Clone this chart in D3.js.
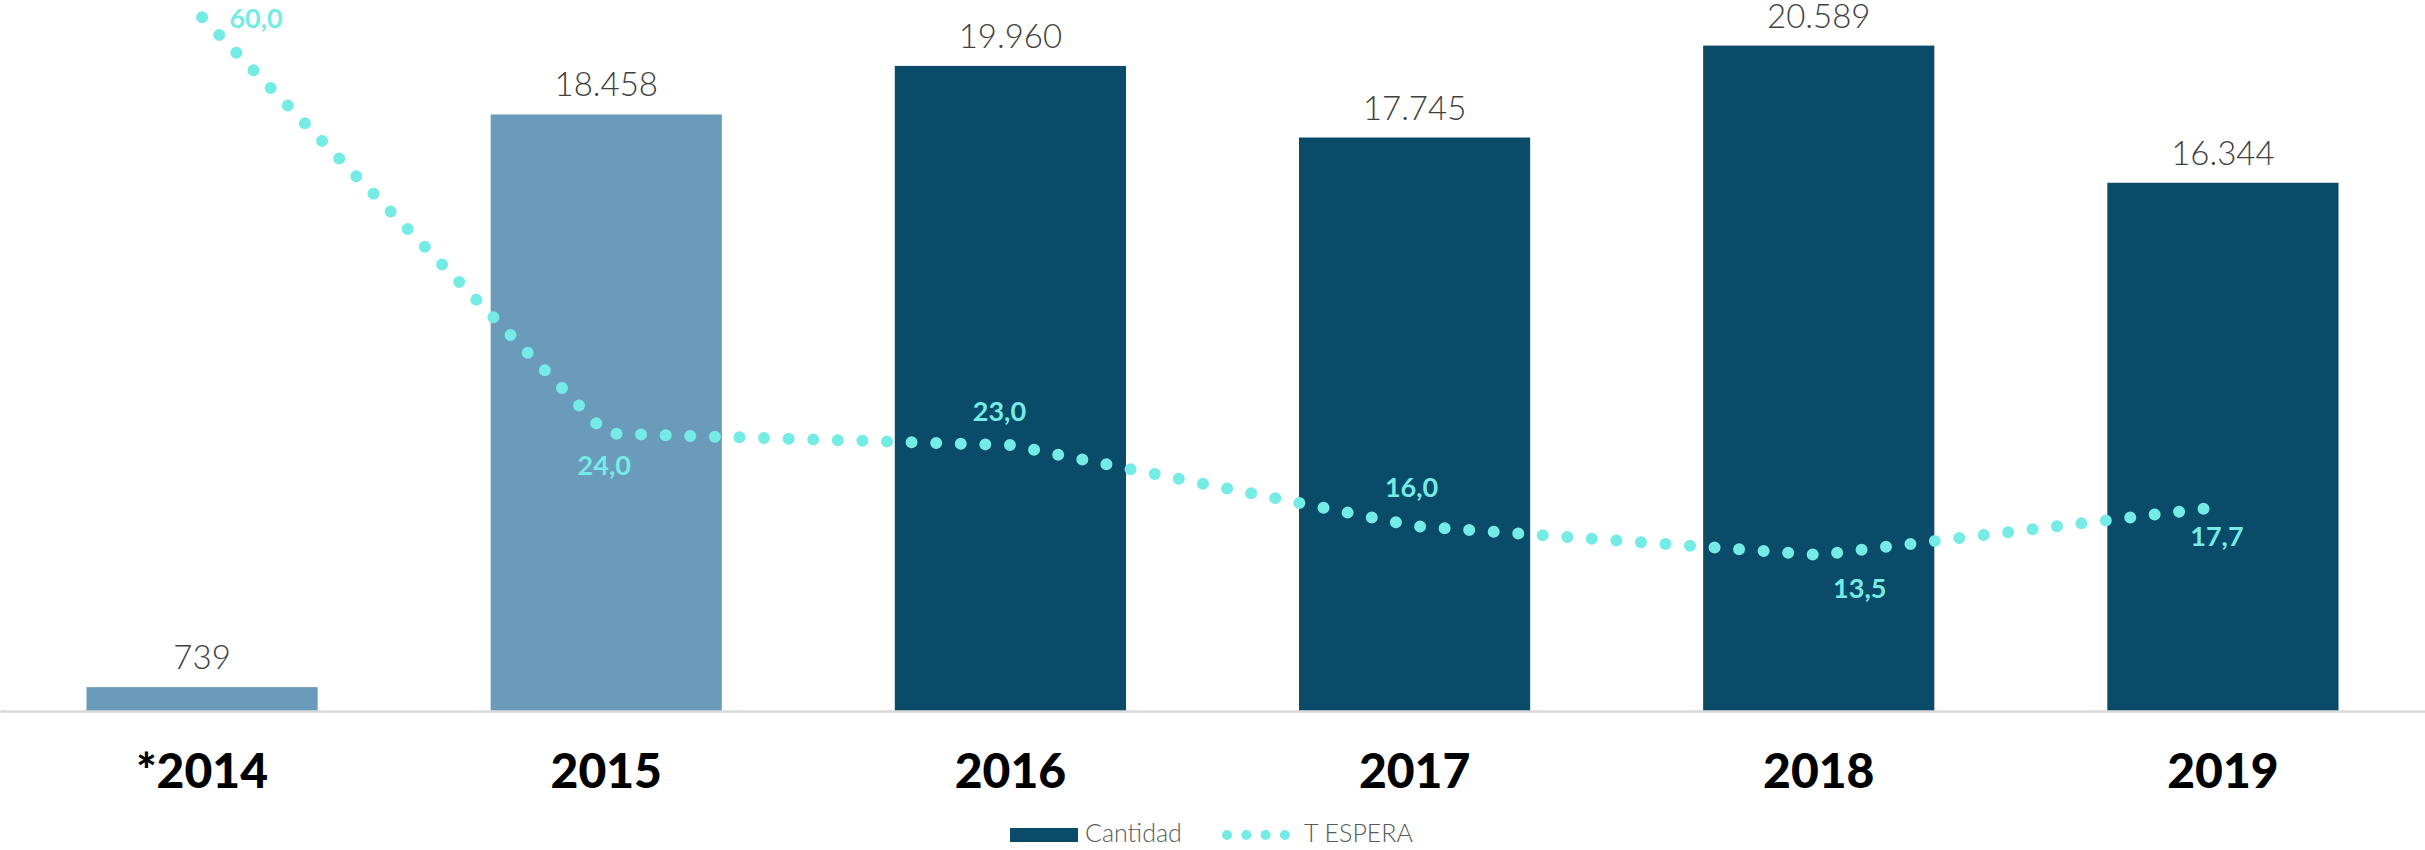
<!DOCTYPE html>
<html>
<head>
<meta charset="utf-8">
<script src="https://cdn.jsdelivr.net/npm/d3@7"></script>
<style>
  html, body { margin: 0; padding: 0; background: #ffffff; }
  svg { display: block; }
</style>
</head>
<body>
<svg id="chart" width="2425" height="850"></svg>
<script>
// ---- data ----
const categories = ["*2014", "2015", "2016", "2017", "2018", "2019"];
const cantidad = [739, 18458, 19960, 17745, 20589, 16344];
const cantidadLabels = ["739", "18.458", "19.960", "17.745", "20.589", "16.344"];
const tEspera = [60.0, 24.0, 23.0, 16.0, 13.5, 17.7];
const tEsperaLabels = ["60,0", "24,0", "23,0", "16,0", "13,5", "17,7"];
const seriesNames = ["Cantidad", "T ESPERA"];

// ---- styling / layout ----
const W = 2425, H = 850;
const baseY = 711;
const darkBlue = "#094b68";
const lightBlue = "#6b9bba";
const turq = "#75ebe5";
// label placement for the T ESPERA value labels (offset from the point)
const lineLabelPlacement = [
  { dx: 54, dy: 1 }, { dx: -2, dy: 32 }, { dx: -11, dy: -34 },
  { dx: -3, dy: -39 }, { dx: 41, dy: 33 }, { dx: -6, dy: 30 }
];

const svg = d3.select("#chart");

const x = d3.scaleBand()
  .domain(categories)
  .range([0, W])
  .paddingInner(0.428)
  .paddingOuter(0.214);

const y = d3.scaleLinear().domain([0, 22000]).range([baseY, 0]);
const y2 = d3.scaleLinear().domain([0, 61.5]).range([baseY, 0]);

// bars
svg.append("g").selectAll("rect")
  .data(categories)
  .join("rect")
  .attr("x", d => x(d))
  .attr("width", x.bandwidth())
  .attr("y", (d, i) => y(cantidad[i]))
  .attr("height", (d, i) => baseY - y(cantidad[i]))
  .attr("fill", (d, i) => i < 2 ? lightBlue : darkBlue);

// baseline axis
const xAxis = d3.axisBottom(x).tickSize(0).tickPadding(0);
const gx = svg.append("g").attr("transform", `translate(0,${baseY})`).call(xAxis);
gx.select(".domain").attr("stroke", "#d9d9d9").attr("stroke-width", 2.5);
gx.selectAll(".tick text")
  .attr("y", 77)
  .attr("dy", null)
  .attr("fill", "#000")
  .style("font-family", "Lato, 'Open Sans', sans-serif")
  .style("font-weight", 900)
  .style("font-size", "48px");

// bar value labels
svg.append("g").selectAll("text")
  .data(categories)
  .join("text")
  .attr("x", d => x(d) + x.bandwidth() / 2)
  .attr("y", (d, i) => y(cantidad[i]) - 18)
  .attr("text-anchor", "middle")
  .attr("fill", "#404040")
  .style("font-family", "Lato, 'Open Sans', sans-serif")
  .style("font-weight", 300)
  .style("font-size", "33px")
  .text((d, i) => cantidadLabels[i]);

// dotted line
const line = d3.line()
  .x((d, i) => x(categories[i]) + x.bandwidth() / 2)
  .y(d => y2(d));

svg.append("path")
  .datum(tEspera)
  .attr("d", line)
  .attr("fill", "none")
  .attr("stroke", turq)
  .attr("stroke-width", 12)
  .attr("stroke-linecap", "round")
  .attr("stroke-linejoin", "round")
  .attr("stroke-dasharray", "0 24.6");

// line value labels
svg.append("g").selectAll("text")
  .data(tEspera)
  .join("text")
  .attr("x", (d, i) => x(categories[i]) + x.bandwidth() / 2 + lineLabelPlacement[i].dx)
  .attr("y", (d, i) => y2(d) + lineLabelPlacement[i].dy)
  .attr("dy", "0.36em")
  .attr("text-anchor", "middle")
  .attr("fill", turq)
  .style("font-family", "Lato, 'Open Sans', sans-serif")
  .style("font-weight", 700)
  .style("font-size", "27px")
  .text((d, i) => tEsperaLabels[i]);

// legend
const lg = svg.append("g");
lg.append("rect")
  .attr("x", 1010).attr("y", 828).attr("width", 68).attr("height", 14)
  .attr("fill", darkBlue);
lg.append("text")
  .attr("x", 1085).attr("y", 842)
  .attr("fill", "#595959")
  .style("font-family", "Lato, 'Open Sans', sans-serif")
  .style("font-weight", 300)
  .style("font-size", "25px")
  .text(seriesNames[0]);
lg.append("line")
  .attr("x1", 1227).attr("x2", 1286).attr("y1", 835).attr("y2", 835)
  .attr("stroke", turq)
  .attr("stroke-width", 10)
  .attr("stroke-linecap", "round")
  .attr("stroke-dasharray", "0 19.3");
lg.append("text")
  .attr("x", 1304).attr("y", 842)
  .attr("fill", "#595959")
  .style("font-family", "Lato, 'Open Sans', sans-serif")
  .style("font-weight", 300)
  .style("font-size", "25px")
  .text(seriesNames[1]);
</script>
</body>
</html>
